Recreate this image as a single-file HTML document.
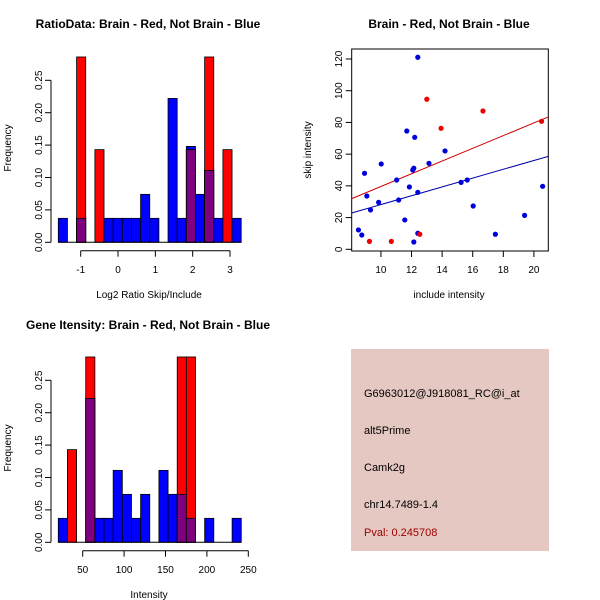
<!DOCTYPE html>
<html><head><meta charset="utf-8"><style>
html,body{margin:0;padding:0;background:#fff;}
svg{display:block;font-family:"Liberation Sans",sans-serif;}
</style></head><body>
<svg id="c" width="600" height="600" viewBox="0 0 600 600" xmlns="http://www.w3.org/2000/svg">
<text x="148" y="28" text-anchor="middle" font-size="12" font-weight="bold">RatioData: Brain - Red, Not Brain - Blue</text>
<text x="449" y="28" text-anchor="middle" font-size="12" font-weight="bold">Brain - Red, Not Brain - Blue</text>
<text x="148" y="329" text-anchor="middle" font-size="12" font-weight="bold">Gene Itensity: Brain - Red, Not Brain - Blue</text>
<text x="149" y="298" text-anchor="middle" font-size="10">Log2 Ratio Skip/Include</text>
<text x="149" y="598" text-anchor="middle" font-size="10">Intensity</text>
<text x="449" y="298" text-anchor="middle" font-size="10">include intensity</text>
<text transform="translate(11,148) rotate(-90)" text-anchor="middle" font-size="10">Frequency</text>
<text transform="translate(11,448) rotate(-90)" text-anchor="middle" font-size="10">Frequency</text>
<text transform="translate(311,150) rotate(-90)" text-anchor="middle" font-size="10">skip intensity</text>
<rect x="351" y="349" width="198" height="202" fill="#e5c8c1"/>
<text x="364" y="397" font-size="11">G6963012@J918081_RC@i_at</text>
<text x="364" y="434" font-size="11">alt5Prime</text>
<text x="364" y="471" font-size="11">Camk2g</text>
<text x="364" y="508" font-size="11">chr14.7489-1.4</text>
<text x="364" y="536" font-size="11" fill="#a00000">Pval: 0.245708</text>
</svg>
<script>
// Ratio histogram data
const ratioBreakStart = -1.6;
const ratioBinWidth = 0.245;
const ratioBlue = [0.037,0,0.037,0,0,0.037,0.037,0.037,0.037,0.074,0.037,0,0.222,0.037,0.148,0.074,0.111,0.037,0,0.037];
const ratioRed = [0,0,0.286,0,0.143,0,0,0,0,0,0,0,0,0,0.143,0,0.286,0,0.143,0];
const ratioXTicks = [-1,0,1,2,3];
// Intensity histogram data
const intBreakStart = 20.5;
const intBinWidth = 11.05;
const intBlue = [0.037,0,0,0.222,0.037,0.037,0.111,0.074,0.037,0.074,0,0.111,0.074,0.074,0.037,0,0.037,0,0,0.037];
const intRed = [0,0.143,0,0.286,0,0,0,0,0,0,0,0,0,0.286,0.286,0,0,0,0,0];
const intXTicks = [50,100,150,200,250];
const freqTicks = [0,0.05,0.10,0.15,0.20,0.25];
const freqTickLabels = ["0.00","0.05","0.10","0.15","0.20","0.25"];
// Scatter data
const blueX = [8.53,8.75,8.93,9.08,9.32,9.85,10.02,11.03,11.16,11.56,11.69,11.86,12.08,12.15,12.21,12.15,12.41,12.41,12.41,13.14,14.19,15.24,15.64,16.03,17.48,19.39,20.57];
const blueY = [12.2,9.0,47.9,33.6,24.8,29.6,53.8,43.7,31.1,18.5,74.6,39.3,50.0,51.1,70.6,4.6,121.1,35.9,10.1,54.2,62.0,42.2,43.7,27.3,9.5,21.4,39.7];
const redX = [9.25,10.68,12.54,13.00,13.93,16.67,20.50];
const redY = [5.0,5.0,9.5,94.6,76.3,87.2,80.7];
const fitSlopes = [4.01,2.78]; // red, blue
const fitIntercepts = [-0.5,0.4];
const scatterXTicks = [10,12,14,16,18,20];
const scatterYTicks = [0,20,40,60,80,100,120];

const NS = "http://www.w3.org/2000/svg";
const svg = document.getElementById('c');
function mk(tag, attrs, parent){const e=document.createElementNS(NS,tag);for(const k in attrs)e.setAttribute(k,attrs[k]);(parent||svg).appendChild(e);return e;}

function histogram(oy, breakStart, bw, blue, red, xTicks, xLo, xHi, pxLo, pxHi, prefix){
  const sx = v => pxLo + (v - xLo) * (pxHi - pxLo) / (xHi - xLo);
  const y0 = oy + 242.3, k = 648;
  const sy = v => y0 - v * k;
  const g = mk('g', {});
  
  
  for (let i = 0; i < blue.length; i++) {
    const x1 = sx(breakStart + i*bw), x2 = sx(breakStart + (i+1)*bw);
    if (blue[i] > 0) {
      const r = mk('rect', {x:x1, y:sy(blue[i]), width:x2-x1, height:blue[i]*k, fill:'#0000ff', stroke:'#000', 'stroke-width':0.8}, g);
      
      
    }
    if (red[i] > 0) {
      const r = mk('rect', {x:x1, y:sy(red[i]), width:x2-x1, height:red[i]*k, fill:'#ff0000', stroke:'#000', 'stroke-width':0.8}, g);
      
      
    }
    if (blue[i] > 0 && red[i] > 0) {
      const m = Math.min(blue[i], red[i]);
      const r = mk('rect', {x:x1, y:sy(m), width:x2-x1, height:m*k, fill:'#7f007f', stroke:'#000', 'stroke-width':0.8}, g);
      
      
    }
  }
  mk('line', {x1:sx(breakStart), x2:sx(breakStart+blue.length*bw), y1:y0, y2:y0, stroke:'#000'}, g);
  const ya = mk('g', {}, g);
  
  
  mk('line', {x1:51, x2:51, y1:sy(0), y2:sy(0.25), stroke:'#000'}, ya);
  freqTicks.forEach((t, i) => {
    mk('line', {x1:45, x2:51, y1:sy(t), y2:sy(t), stroke:'#000'}, ya);
    const tx = mk('text', {transform:`translate(42,${sy(t)}) rotate(-90)`, 'text-anchor':'middle', 'font-size':10}, ya);
    tx.textContent = freqTickLabels[i];
  });
  const xa = mk('g', {}, g);
  
  
  const ay = oy + 250.7;
  mk('line', {x1:sx(xTicks[0]), x2:sx(xTicks[xTicks.length-1]), y1:ay, y2:ay, stroke:'#000'}, xa);
  xTicks.forEach(t => {
    mk('line', {x1:sx(t), x2:sx(t), y1:ay, y2:ay+6, stroke:'#000'}, xa);
    const tx = mk('text', {x:sx(t), y:oy+273, 'text-anchor':'middle', 'font-size':10}, xa);
    tx.textContent = t;
  });
}
histogram(0, ratioBreakStart, ratioBinWidth, ratioBlue, ratioRed, ratioXTicks, -1, 3, 80.7, 230, 'ratio');
histogram(300, intBreakStart, intBinWidth, intBlue, intRed, intXTicks, 50, 250, 82.7, 248.3, 'intensity');

(function(){
  const xLo = 8.09, xHi = 20.94, pL = 351.7, pR = 548.3;
  const sx = v => pL + (v - xLo) * (pR - pL) / (xHi - xLo);
  const sy = v => 249.3 - v * 1.586;
  const g = mk('g', {});
  
  
  mk('rect', {x:pL, y:49, width:pR-pL, height:202, fill:'none', stroke:'#000'}, g);
  const ya = mk('g', {}, g);
  
  
  scatterYTicks.forEach(t => {
    mk('line', {x1:pL-6, x2:pL, y1:sy(t), y2:sy(t), stroke:'#000'}, ya);
    const tx = mk('text', {transform:`translate(342,${sy(t)}) rotate(-90)`, 'text-anchor':'middle', 'font-size':10}, ya);
    tx.textContent = t;
  });
  const xa = mk('g', {}, g);
  
  
  scatterXTicks.forEach(t => {
    mk('line', {x1:sx(t), x2:sx(t), y1:251, y2:257, stroke:'#000'}, xa);
    const tx = mk('text', {x:sx(t), y:273, 'text-anchor':'middle', 'font-size':10}, xa);
    tx.textContent = t;
  });
  const colors = ['#cc0000', '#0000aa'];
  fitSlopes.forEach((s, i) => {
    const l = mk('line', {x1:pL, x2:pR, y1:sy(fitIntercepts[i] + s*xLo), y2:sy(fitIntercepts[i] + s*xHi), stroke:colors[i], 'stroke-width':1}, g);
    
    
  });
  blueX.forEach((x, i) => {
    const c = mk('circle', {cx:sx(x), cy:sy(blueY[i]), r:2.6, fill:'#0000dd'}, g);
    
    
  });
  redX.forEach((x, i) => {
    const c = mk('circle', {cx:sx(x), cy:sy(redY[i]), r:2.6, fill:'#ee0000'}, g);
    
    
  });
})();
</script>
</body></html>
